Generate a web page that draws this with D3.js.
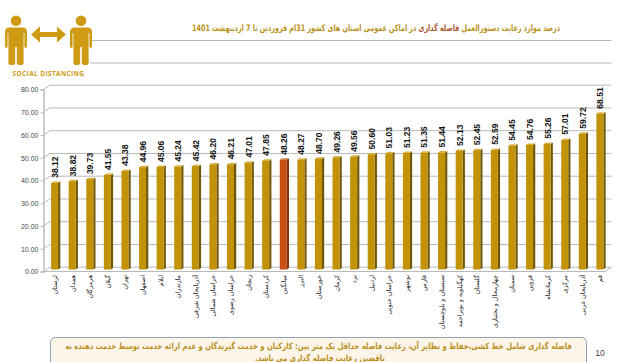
<!DOCTYPE html>
<html>
<head>
<meta charset="utf-8">
<script src="https://cdn.jsdelivr.net/npm/d3@7"></script>
<style>
  html, body { margin: 0; padding: 0; background: #fff; overflow: hidden; }
  text { font-family: "DejaVu Sans", sans-serif; }
</style>
</head>
<body>
<div id="chart"></div>
<script>
// Values, left to right
const provinces = ["لرستان", "همدان", "هرمزگان", "گیلان", "تهران", "اصفهان", "ایلام", "مازندران",
    "آذربایجان شرقی", "خراسان شمالی", "خراسان رضوی", "زنجان", "کردستان", "میانگین", "البرز", "خوزستان",
    "کرمان", "یزد", "اردبیل", "خراسان جنوبی", "بوشهر", "فارس", "سیستان و بلوچستان", "کهگیلویه و بویراحمد",
    "گلستان", "چهارمحال و بختیاری", "سمنان", "قزوین", "کرمانشاه", "مرکزی", "آذربایجان غربی", "قم"];
const values = [38.12, 38.82, 39.73, 41.55, 43.38, 44.96, 45.06, 45.24, 45.42, 46.20, 46.21, 47.01, 47.85, 48.26,
    48.27, 48.70, 49.26, 49.56, 50.60, 51.03, 51.23, 51.35, 51.44, 52.13, 52.45, 52.59, 54.45, 54.76, 55.26,
    57.01, 59.72, 68.51];
const yTicks = [0, 10, 20, 30, 40, 50, 60, 70, 80];
const averageLabel = "میانگین";

const gold = "#b8901a";
const iconGold = "#cf9a14";
const svg = d3.select("#chart").append("svg")
    .attr("width", 640)
    .attr("height", 362);

// Plot area of the front face, the back wall is shifted by depth
const plotLeft = 43.5, plotRight = 605, plotTop = 89.5, plotBottom = 271.5;
const depthX = 6.5, depthY = -4.3;

const x = d3.scaleBand()
    .domain(provinces)
    .range([plotLeft, plotRight])
    .paddingInner(0.6)
    .paddingOuter(0.26);

const y = d3.scaleLinear()
    .domain([0, 80])
    .range([plotBottom, plotTop]);

// Squeeze a text sideways to the width it has in the picture, x is where it is anchored
function fitWidth(sel, px, py, width) {
    const scale = width / sel.node().getComputedTextLength();
    sel.attr("transform", "translate(" + px + "," + py + ")scale(" + scale + ",1)");
}

// Two rules above the chart
[40.5, 63].forEach(function (ly) {
    svg.append("line")
        .attr("x1", 90).attr("x2", plotRight + depthX)
        .attr("y1", ly).attr("y2", ly)
        .attr("stroke", "#b4b4b4")
        .attr("stroke-width", 1.2);
});

// Back wall gridlines with the slanted bit on the left
const grid = svg.append("g");
yTicks.forEach(function (t) {
    grid.append("path")
        .attr("d", "M" + plotLeft + "," + y(t) + "L" + (plotLeft + depthX) + "," + (y(t) + depthY) + "H" + (plotRight + depthX))
        .attr("fill", "none")
        .attr("stroke", "#b9b9b9")
        .attr("stroke-width", 1);
});
// Front edge of the floor
grid.append("path")
    .attr("d", "M" + plotLeft + "," + plotBottom + "H" + plotRight + "L" + (plotRight + depthX) + "," + (plotBottom + depthY))
    .attr("fill", "none")
    .attr("stroke", "#b9b9b9");

// Y axis
const yAxis = svg.append("g")
    .attr("transform", "translate(" + plotLeft + ",0)")
    .call(d3.axisLeft(y).tickValues(yTicks).tickFormat(d3.format(".2f")).tickSize(3).tickPadding(2));
yAxis.select(".domain").attr("stroke", "#bdbdbd").attr("stroke-width", 1.5);
yAxis.selectAll(".tick line").attr("stroke", "#bdbdbd");
yAxis.selectAll("text")
    .attr("fill", "#4a4a4a")
    .style("font-family", "'Liberation Sans', sans-serif")
    .style("font-size", "7px");

// Bars stand in the middle of the floor: side, top and front faces
const barDepthX = 2.2, barDepthY = -1.4;
const bars = svg.append("g")
    .attr("transform", "translate(3,-2)")
    .selectAll("g")
    .data(provinces)
    .enter()
    .append("g");

bars.append("path")
    .attr("d", function (d, i) {
        const xr = x(d) + x.bandwidth();
        return "M" + xr + "," + y(values[i]) + "l" + barDepthX + "," + barDepthY + "V" + (y(0) + barDepthY) + "l" + (-barDepthX) + "," + (-barDepthY) + "Z";
    })
    .attr("fill", d => d === averageLabel ? "#7c3410" : "#6e5606");

bars.append("path")
    .attr("d", function (d, i) {
        return "M" + x(d) + "," + y(values[i]) + "l" + barDepthX + "," + barDepthY + "h" + x.bandwidth() + "l" + (-barDepthX) + "," + (-barDepthY) + "Z";
    })
    .attr("fill", d => d === averageLabel ? "#d97a3a" : "#d9b040");

bars.append("rect")
    .attr("x", d => x(d))
    .attr("y", (d, i) => y(values[i]))
    .attr("width", x.bandwidth())
    .attr("height", (d, i) => y(0) - y(values[i]))
    .attr("fill", d => d === averageLabel ? "#c5500f" : "#c29208");

// Value labels, rotated
bars.append("text")
    .attr("transform", (d, i) => "translate(" + (x(d) + x.bandwidth() / 2 + 3.5) + "," + (y(values[i]) - 5) + ")rotate(-90)")
    .attr("fill", "#111")
    .style("font-family", "'Liberation Sans', sans-serif")
    .style("font-size", "8.5px")
    .style("font-weight", "bold")
    .text((d, i) => values[i].toFixed(2));

// Province names, rotated, reading from the top down
bars.append("text")
    .attr("transform", d => "translate(" + (x(d) + x.bandwidth() / 2 + 2.5) + "," + (plotBottom + 5.5) + ")rotate(-90)")
    .attr("direction", "rtl")
    .attr("text-anchor", "start")
    .attr("fill", "#222")
    .style("font-size", "6.4px")
    .text(d => d);

// Title
const title = svg.append("text")
    .attr("direction", "rtl")
    .attr("text-anchor", "start")
    .attr("fill", gold)
    .style("font-size", "9px")
    .style("font-weight", "bold");
title.append("tspan").text("درصد موارد رعایت دستورالعمل ");
title.append("tspan").attr("fill", "#a8552a").text("فاصله گذاری");
title.append("tspan").text(" در اماکن عمومی استان های کشور 31ام فروردین تا 7 اردیبهشت 1401");
fitWidth(title, 560, 31, 369);

// Social distancing icon
function person(cx) {
    const g = svg.append("g").attr("transform", "translate(" + cx + ",0)").attr("fill", iconGold);
    g.append("circle").attr("cx", 0).attr("cy", 20.8).attr("r", 5.3);
    g.append("path").attr("d", "M-11,32Q-11,27.5 -6.5,27.5H6.5Q11,27.5 11,32V46Q11,48 9.7,48T8.4,46V33H7.6V63Q7.6,65 4.2,65T0.8,63V47H-0.8V63Q-0.8,65 -4.2,65T-7.6,63V33H-8.4V46Q-8.4,48 -9.7,48T-11,46Z");
}
person(16);
person(81);
svg.append("path")
    .attr("d", "M31,34.5L40,26.5V32H57V26.5L66,34.5L57,42.5V37H40V42.5Z")
    .attr("fill", iconGold);
svg.append("text")
    .attr("x", 48.5)
    .attr("y", 76)
    .attr("text-anchor", "middle")
    .attr("fill", iconGold)
    .style("font-family", "'Open Sans', sans-serif")
    .style("font-size", "6.4px")
    .style("font-weight", "bold")
    .style("letter-spacing", "0.45px")
    .text("SOCIAL DISTANCING");

// Note box, it runs off the bottom of the slide
svg.append("rect")
    .attr("x", 50.5).attr("y", 337.5)
    .attr("width", 536).attr("height", 40)
    .attr("rx", 5)
    .attr("fill", "#fdf4ea")
    .attr("stroke", "#8ea2b6");
const note1 = svg.append("text")
    .attr("direction", "rtl")
    .attr("text-anchor", "middle")
    .attr("fill", gold)
    .style("font-size", "8.5px")
    .style("font-weight", "bold")
    .text("فاصله گذاری شامل خط کشی،حفاظ و نظایر آن، رعایت فاصله حداقل یک متر بین: کارکنان و خدمت گیرندگان و عدم ارائه خدمت توسط خدمت دهنده به");
fitWidth(note1, 318.5, 349, 507);
const note2 = svg.append("text")
    .attr("direction", "rtl")
    .attr("text-anchor", "middle")
    .attr("fill", gold)
    .style("font-size", "8.5px")
    .style("font-weight", "bold")
    .text("ناقضین رعایت فاصله گذاری می باشد.");
fitWidth(note2, 320, 361, 130);

// Page number
svg.append("text")
    .attr("x", 600).attr("y", 355.5)
    .attr("text-anchor", "middle")
    .attr("fill", "#444")
    .style("font-family", "'Liberation Sans', sans-serif")
    .style("font-size", "8.5px")
    .text("10");
</script>
</body>
</html>
